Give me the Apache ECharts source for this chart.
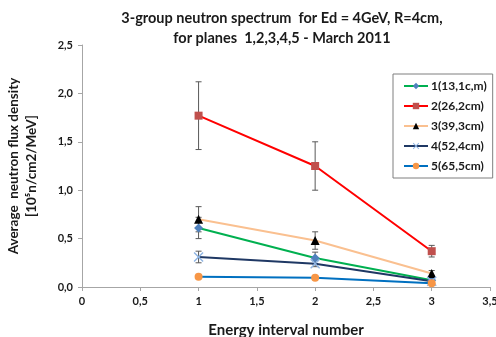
<!DOCTYPE html>
<html>
<head>
<meta charset="utf-8">
<script src="https://cdn.jsdelivr.net/npm/echarts@6/dist/echarts.min.js"></script>
<style>
  html, body { margin: 0; padding: 0; background: #fff; }
  #chart { width: 496px; height: 337px; }
</style>
</head>
<body>
<div id="chart"></div>
<script>
// energy interval numbers
const intervals = [1, 2, 3];

const names = ['1(13,1c,m)', '2(26,2cm)', '3(39,3cm)', '4(52,4cm)', '5(65,5cm)'];

// flux values per plane
const plane1 = [0.61, 0.30, 0.07];
const plane2 = [1.77, 1.25, 0.37];
const plane3 = [0.70, 0.48, 0.14];
const plane4 = [0.31, 0.24, 0.06];
const plane5 = [0.105, 0.095, 0.04];

// error bar half-widths
const err1 = [0.11, 0.06, 0.02];
const err2 = [0.35, 0.25, 0.06];
const err3 = [0.13, 0.09, 0.03];
const err4 = [0.06, 0.03, 0.02];
const err5 = [0.01, 0.01, 0.01];

const values = [plane1, plane2, plane3, plane4, plane5];
const errors = [err1, err2, err3, err4, err5];

const lineColors = ['#00b050', '#ff0000', '#fac090', '#1f3864', '#0070c0'];
const markColors = ['#4f81bd', '#c0504d', '#000000', '#8eb4e3', '#f79646'];
const symbols = [
  'diamond', 'rect', 'triangle',
  'path://M0,1L1,0L5,4L9,0L10,1L6,5L10,9L9,10L5,6L1,10L0,9L4,5Z',
  'circle'
];
const symbolSizes = [9, 8, 9, 10, 8];

const FONT = 'Lato';
const comma = v => String(v).replace('.', ',');

const lineSeries = values.map((vals, s) => ({
  name: names[s],
  type: 'line',
  z: 5,
  data: intervals.map((x, i) => [x, vals[i]]),
  symbol: symbols[s],
  symbolSize: symbolSizes[s],
  showSymbol: true,
  lineStyle: { color: lineColors[s], width: 2 },
  itemStyle: { color: markColors[s], borderWidth: 0 },
  emphasis: { disabled: true }
}));

const errSeries = values.map((vals, s) => ({
  type: 'custom',
  z: 4,
  silent: true,
  data: intervals.map((x, i) => [x, vals[i] - errors[s][i], vals[i] + errors[s][i]]),
  renderItem: (params, api) => {
    const lo = api.coord([api.value(0), api.value(1)]);
    const hi = api.coord([api.value(0), api.value(2)]);
    const cap = 3;
    const style = { stroke: '#595959', lineWidth: 1 };
    return {
      type: 'group',
      children: [
        { type: 'line', shape: { x1: lo[0], y1: lo[1], x2: hi[0], y2: hi[1] }, style },
        { type: 'line', shape: { x1: lo[0] - cap, y1: lo[1], x2: lo[0] + cap, y2: lo[1] }, style },
        { type: 'line', shape: { x1: hi[0] - cap, y1: hi[1], x2: hi[0] + cap, y2: hi[1] }, style }
      ]
    };
  }
}));

const chart = echarts.init(document.getElementById('chart'));
chart.setOption({
  animation: false,
  title: {
    text: '3-group neutron spectrum  for Ed = 4GeV, R=4cm,\nfor planes  1,2,3,4,5 - March 2011',
    left: 277,
    textAlign: 'center',
    top: 3,
    textStyle: { fontFamily: FONT, fontWeight: 'bold', fontSize: 14.5, lineHeight: 20, color: '#1a1a1a' }
  },
  legend: {
    data: names,
    orient: 'vertical',
    left: 393,
    top: 74,
    width: 100,
    padding: [6, 6, 6, 10],
    itemGap: 8,
    itemWidth: 24,
    itemHeight: 8,
    borderColor: '#7f7f7f',
    borderWidth: 1,
    backgroundColor: '#fff',
    textStyle: { fontFamily: FONT, fontWeight: 'bold', fontSize: 12, color: '#1a1a1a', padding: [0, 0, 0, -2] }
  },
  grid: { left: 82, right: 6, top: 45, bottom: 50, containLabel: false, outerBoundsMode: 'none' },
  xAxis: {
    type: 'value',
    min: 0,
    max: 3.5,
    interval: 0.5,
    name: 'Energy interval number',
    nameLocation: 'middle',
    nameGap: 36,
    nameTextStyle: { fontFamily: FONT, fontWeight: 'bold', fontSize: 15, color: '#1a1a1a' },
    splitLine: { show: false },
    axisLine: { lineStyle: { color: '#a6a6a6' } },
    axisTick: { length: 4, lineStyle: { color: '#a6a6a6' } },
    axisLabel: { formatter: comma, fontFamily: FONT, fontWeight: 'bold', fontSize: 11, color: '#1a1a1a', margin: 9 }
  },
  yAxis: {
    type: 'value',
    min: 0,
    max: 2.5,
    interval: 0.5,
    name: 'Average  neutron flux density\n[10⁵n/cm2/MeV]',
    nameLocation: 'middle',
    nameGap: 41,
    nameRotate: 90,
    nameTextStyle: { fontFamily: FONT, fontWeight: 'bold', fontSize: 13.5, lineHeight: 18, color: '#1a1a1a' },
    splitLine: { show: false },
    axisLine: { show: true, lineStyle: { color: '#a6a6a6' } },
    axisTick: { show: true, length: 4, lineStyle: { color: '#a6a6a6' } },
    axisLabel: { formatter: v => v.toFixed(1).replace('.', ','), fontFamily: FONT, fontWeight: 'bold', fontSize: 11, color: '#1a1a1a', margin: 9 }
  },
  series: errSeries.concat(lineSeries)
});
</script>
</body>
</html>
